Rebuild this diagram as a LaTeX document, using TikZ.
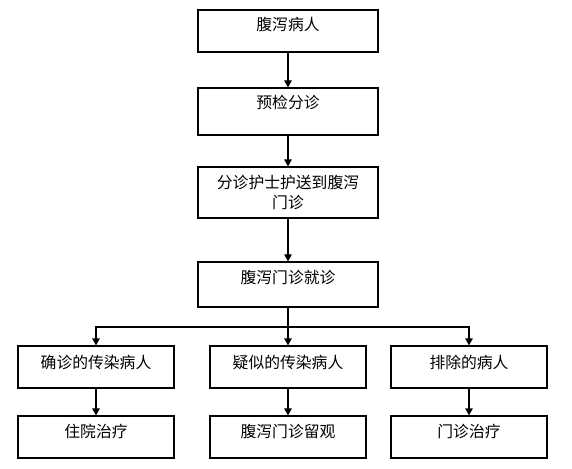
\documentclass[tikz,border=0pt]{standalone}
\usepackage{fontspec}
\newfontfamily\cjk{Noto Sans CJK SC}
\usetikzlibrary{arrows.meta}

\begin{document}
\begin{tikzpicture}[x=1pt,y=-1pt,>={Triangle[length=7pt,width=7.5pt]},
    box/.style={draw, line width=1.2pt, minimum width=180pt, inner sep=0pt},
    sbox/.style={box, minimum width=156pt, minimum height=42pt},
    txt/.style={font=\cjk\fontsize{15.8}{20}\selectfont, align=center, inner sep=0pt}]
  \useasboundingbox[fill=white] (0,0) rectangle (572,468);
  % main column
  \node[box, minimum height=42pt] (sick) at (288,31) {};
  \node[box, minimum height=47pt] (triage) at (288,111.5) {};
  \node[box, minimum height=51pt] (escort) at (288,192.5) {};
  \node[box, minimum height=45pt] (clinic) at (288,284.5) {};
  \node[txt] (sickt) at ([yshift=-15pt]sick.north) {腹泻病人};
  \node[txt] (triaget) at ([yshift=-15pt]triage.north) {预检分诊};
  \node[txt] (escortt) at (escort) {分诊护士护送到腹泻\\门诊};
  \node[txt] (clinict) at ([yshift=-16pt]clinic.north) {腹泻门诊就诊};
  % three outcomes
  \node[sbox] (conf) at (96,367) {};
  \node[sbox] (susp) at (288,367) {};
  \node[sbox] (excl) at (469,367) {};
  \node[sbox] (ward) at (96,437) {};
  \node[sbox] (watch) at (288,437) {};
  \node[sbox] (outp) at (469,437) {};
  \node[txt] (conft) at ([yshift=-17pt]conf.north) {确诊的传染病人};
  \node[txt] (suspt) at ([yshift=-17pt]susp.north) {疑似的传染病人};
  \node[txt] (exclt) at ([yshift=-17pt]excl.north) {排除的病人};
  \node[txt] (wardt) at ([yshift=-16pt]ward.north) {住院治疗};
  \node[txt] (watcht) at ([yshift=-16pt]watch.north) {腹泻门诊留观};
  \node[txt] (outpt) at ([yshift=-16pt]outp.north) {门诊治疗};
  \coordinate (fork) at (288,327);
  % connectors
  \begin{scope}[line width=1.2pt]
    \draw[->] (sick) -- (triage);
    \draw[->] (triage) -- (escort);
    \draw[->] (escort) -- (clinic);
    \draw (clinic) -- (fork);
    \draw[->] (fork) -| (conf.north);
    \draw[->] (fork) -- (susp);
    \draw[->] (fork) -| (excl.north);
    \draw[->] (conf) -- (ward);
    \draw[->] (susp) -- (watch);
    \draw[->] (excl) -- (outp);
  \end{scope}
\end{tikzpicture}
\end{document}
